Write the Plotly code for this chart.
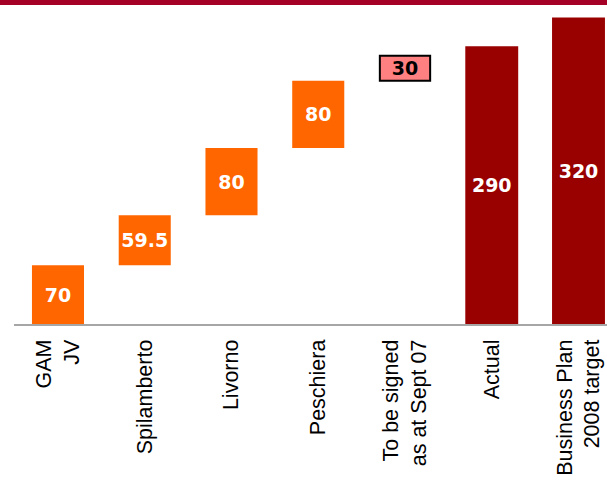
import numpy as np
import plotly.graph_objects as go

# Categories along the x axis
categories = ["GAM<br>JV", "Spilamberto", "Livorno", "Peschiera",
              "To be signed<br>as at Sept 07", "Actual", "Business Plan<br>2008 target"]

# Signed contributions (waterfall steps)
signed_steps = [70, 59.5, 80, 80]
# Pipeline still to be signed
pending = [30]
# Totals
totals = [290, 320]

ORANGE = "#FF6600"
DARK_RED = "#990000"
PINK = "#FF8080"
BAND = "#A50026"

step_bases = np.concatenate([[0], np.cumsum(signed_steps)[:-1]])
pending_base = [float(np.sum(signed_steps))]

label_font = dict(family="DejaVu Sans", size=19, color="white")

fig = go.Figure()

fig.add_trace(go.Bar(
    x=categories[0:4], y=signed_steps, base=step_bases,
    marker=dict(color=ORANGE, line=dict(width=0)),
    width=0.6, yaxis="y2",
    text=[f"{v:g}" for v in signed_steps], textposition="inside",
    insidetextanchor="middle", constraintext="none",
    textfont=dict(label_font, weight="bold"),
    hoverinfo="skip",
))

fig.add_trace(go.Bar(
    x=categories[4:5], y=pending, base=pending_base,
    marker=dict(color=PINK, line=dict(width=2, color="black")),
    width=0.58, yaxis="y2",
    text=[f"{v:g}" for v in pending], textposition="inside",
    insidetextanchor="middle", constraintext="none",
    textfont=dict(family="DejaVu Sans", size=19, color="black", weight="bold"),
    hoverinfo="skip",
))

fig.add_trace(go.Bar(
    x=categories[5:7], y=totals,
    marker=dict(color=DARK_RED, line=dict(width=0)),
    width=0.61,
    text=[f"{v:g}" for v in totals], textposition="inside",
    insidetextanchor="middle", constraintext="none",
    textfont=dict(label_font, weight="bold"),
    hoverinfo="skip",
))

fig.update_layout(
    width=607, height=481,
    margin=dict(l=14, r=0, t=5, b=157),
    paper_bgcolor="white", plot_bgcolor="white",
    barmode="overlay", showlegend=False,
    xaxis=dict(
        type="category", categoryorder="array", categoryarray=categories,
        range=[-0.507, 6.3285],
        showline=True, linecolor="#A6A6A6", linewidth=2,
        showgrid=False, zeroline=False, ticks="",
        tickangle=-90, ticklabelstandoff=5,
        tickfont=dict(family="Liberation Sans", size=21.5, color="black"),
    ),
    yaxis=dict(range=[0, 333], visible=False, showgrid=False, zeroline=False),
    yaxis2=dict(range=[0, 379.8], overlaying="y", visible=False,
                showgrid=False, zeroline=False),
    shapes=[dict(type="rect", xref="paper", yref="paper",
                 x0=-0.03, x1=1.01, y0=1.0, y1=1.02,
                 fillcolor=BAND, line=dict(width=0), layer="above")],
)

fig.write_html("out.html")
